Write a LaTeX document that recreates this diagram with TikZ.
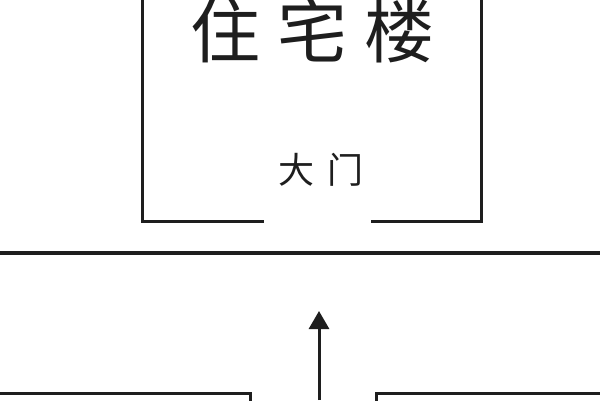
\documentclass[tikz,border=0pt]{standalone}
\usepackage{fontspec}
\newfontfamily\cjk{Noto Sans CJK SC}
\usetikzlibrary{arrows.meta}
\definecolor{ink}{HTML}{1E1E1E}
\tikzset{
  wall/.style={draw=ink, line width=3pt, line cap=rect},
  road/.style={draw=ink, line width=3.2pt},
  label/.style={text=ink, inner sep=0pt, font=\cjk},
  flow/.style={draw=ink, line width=3pt, -{Triangle[width=20pt,length=18pt]}}
}
\begin{document}
\begin{tikzpicture}[x=1pt,y=-1pt]
\useasboundingbox (0,0) rectangle (600,400);
\fill[white] (0,0) rectangle (600,400);
\begin{scope}
\clip (0,0) rectangle (600,400);
% building outline
\draw[wall] (262,221) -- (142,221) -- (142,-10);
\draw[wall] (372,221) -- (481,221) -- (481,-10);
% road edge
\draw[road] (-10,253) -- (610,253);
% lower blocks
\draw[wall] (-10,393) -- (250,393) -- (250,410);
\draw[wall] (610,393) -- (376,393) -- (376,410);
\end{scope}
% labels
\node[label, font=\cjk\fontsize{70}{70}\selectfont] (title) at (312.5,31) {住\hspace{17pt}宅\hspace{17pt}楼};
\node[label, font=\cjk\fontsize{36}{36}\selectfont] (door) at (321,170) {大\hspace{14pt}门};
% arrow
\coordinate (start) at (319,400);
\coordinate (gate) at (319,311);
\draw[flow] (start) -- (gate);
\end{tikzpicture}
\end{document}
